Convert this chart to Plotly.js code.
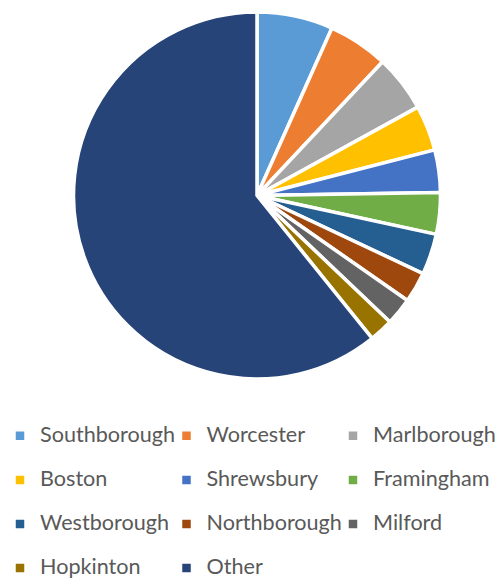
<!DOCTYPE html>
<html>
<head>
<meta charset="utf-8">
<script src="https://cdn.plot.ly/plotly-3.0.1.min.js"></script>
<style>html,body{margin:0;padding:0;background:#fff;}#chart{width:498px;height:582px;}</style>
</head>
<body>
<div id="chart"></div>
<script>
var categories = ["Southborough", "Worcester", "Marlborough", "Boston", "Shrewsbury", "Framingham", "Westborough", "Northborough", "Milford", "Hopkinton", "Other"];
var shares = [6.7, 5.3, 5.0, 4.0, 3.75, 3.65, 3.6, 2.7, 2.4, 2.1, 60.8];
var colors = ["#5B9BD5", "#ED7D31", "#A5A5A5", "#FFC000", "#4472C4", "#70AD47", "#255E91", "#9E480E", "#636363", "#997300", "#264478"];

var legendLabels = categories.map(function (c) {
  return '<span style="font-size:21.6px">' + c + '</span><br>\u00a0';
});

var trace = {
  type: 'pie',
  labels: legendLabels,
  values: shares,
  sort: false,
  direction: 'clockwise',
  rotation: 0,
  textinfo: 'none',
  hoverinfo: 'none',
  marker: { colors: colors, line: { color: '#ffffff', width: 3.5 } },
  domain: { x: [0.1476, 0.8845], y: [0.0945, 0.9724] }
};

var layout = {
  width: 498,
  height: 582,
  margin: { l: 0, r: 0, t: 0, b: 0 },
  paper_bgcolor: '#ffffff',
  showlegend: true,
  legend: {
    orientation: 'h',
    xref: 'container', yref: 'container',
    x: -0.004, xanchor: 'left',
    y: 0.280, yanchor: 'top',
    entrywidth: 121.5, entrywidthmode: 'pixels',
    valign: 'top',
    traceorder: 'normal',
    font: { family: 'Lato, sans-serif', size: 15.8, color: '#595959' },
    bgcolor: 'rgba(0,0,0,0)'
  }
};

Plotly.newPlot('chart', [trace], layout, { displayModeBar: false, staticPlot: true });
</script>
</body>
</html>
